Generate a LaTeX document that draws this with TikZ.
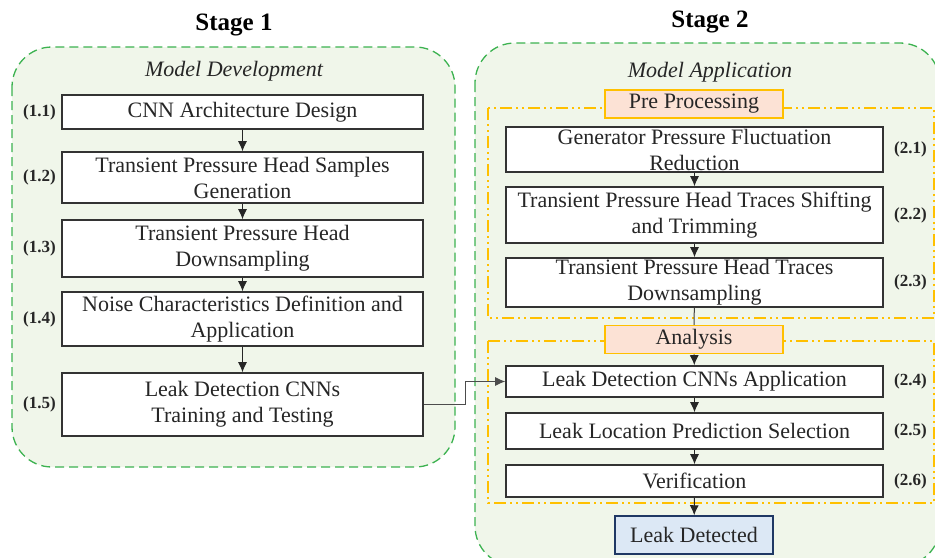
\documentclass[tikz,border=0pt]{standalone}
\usepackage{fontspec}
\setmainfont{Liberation Serif}
\usepackage{xcolor}
\usetikzlibrary{arrows.meta,positioning}
\definecolor{stagegreen}{RGB}{60,178,80}
\definecolor{stagefill}{RGB}{240,246,234}
\definecolor{frameorange}{RGB}{255,192,0}
\definecolor{tagfill}{RGB}{252,226,213}
\definecolor{endfill}{RGB}{220,232,245}
\definecolor{endline}{RGB}{31,56,100}
\begin{document}
\begin{tikzpicture}[x=0.5pt,y=-0.5pt,font=\fontsize{11}{13}\selectfont,text=black!85,
  stepbox/.style={draw=black!80,line width=0.8pt,fill=white,align=center,inner sep=0pt},
  leftbox/.style={stepbox,minimum width=180.5pt},
  rightbox/.style={stepbox,minimum width=188.5pt},
  tagbox/.style={draw=frameorange,line width=0.75pt,fill=tagfill,inner sep=0pt,minimum width=89pt,minimum height=14pt},
  num/.style={font=\fontsize{8.5}{10}\selectfont\bfseries,inner sep=1pt},
  stage/.style={draw=stagegreen,dash pattern=on 4.5pt off 2.5pt,line width=0.65pt,fill=stagefill,rounded corners=20pt},
  frame/.style={draw=frameorange,line width=0.9pt,dash pattern=on 6pt off 2pt on 1pt off 2pt on 1pt off 2pt},
  flow/.style={-{Latex[length=5pt,width=4.5pt]},black!85,line width=0.5pt}]
\path[use as bounding box,clip] (0,0) rectangle (935,557);
% stage containers
\draw[stage] (12,47) rectangle (455,467);
\draw[stage] (475,43) rectangle (940,566);
\node[font=\fontsize{12.5}{14}\selectfont\bfseries,text=black] (title1) at (234,25) {Stage 1};
\node[font=\fontsize{12.5}{14}\selectfont\bfseries,text=black] (title2) at (710,22) {Stage 2};
\node[font=\fontsize{11}{13}\selectfont\itshape] (dev) at (234,71) {Model Development};
\node[font=\fontsize{11}{13}\selectfont\itshape] (app) at (710,72) {Model Application};
% stage 1 steps
\node[leftbox,minimum height=17pt] (s11) at (242.5,112) {CNN Architecture Design};
\node[leftbox,minimum height=25.5pt] (s12) at (242.5,177.5) {Transient Pressure Head Samples\\Generation};
\node[leftbox,minimum height=28.5pt] (s13) at (242.5,248.5) {Transient Pressure Head\\Downsampling};
\node[leftbox,minimum height=27pt] (s14) at (242.5,319) {Noise Characteristics Definition and\\Application};
\node[leftbox,minimum height=31.5pt] (s15) at (242.5,404.5) {Leak Detection CNNs\\Training and Testing};
\foreach \n in {1,...,5}{\node[num,left=1.5pt of s1\n] (n1\n) {(1.\n)};}
% stage 2 frames
\draw[frame] (488,108) rectangle (934,318);
\draw[frame] (488,341) rectangle (934,503);
\node[tagbox] (pre) at (694,104) {Pre Processing};
\node[tagbox] (ana) at (694,339.5) {Analysis};
% stage 2 steps
\node[rightbox,minimum height=22.5pt] (s21) at (694.5,149.5) {Generator Pressure Fluctuation\\Reduction};
\node[rightbox,minimum height=28pt] (s22) at (694.5,215) {Transient Pressure Head Traces Shifting\\and Trimming};
\node[rightbox,minimum height=24.5pt] (s23) at (694.5,282.5) {Transient Pressure Head Traces\\Downsampling};
\node[rightbox,minimum height=15.5pt] (s24) at (694.5,381.5) {Leak Detection CNNs Application};
\node[rightbox,minimum height=18pt] (s25) at (694.5,431) {Leak Location Prediction Selection};
\node[rightbox,minimum height=16pt] (s26) at (694.5,481) {Verification};
\foreach \n in {1,...,6}{\node[num,right=4pt of s2\n] (n2\n) {(2.\n)};}
\node[draw=endline,line width=0.75pt,fill=endfill,inner sep=0pt,minimum width=79pt,minimum height=19pt] (leak) at (694,535) {Leak Detected};
% connectors
\draw[flow] (s11) -- (s12);
\draw[flow] (s12) -- (s13);
\draw[flow] (s13) -- (s14);
\draw[flow] (s14) -- (s15);
\draw[flow] (s21) -- (s22);
\draw[flow] (s22) -- (s23);
\draw[black!75,line width=0.5pt] (s23) -- (ana);
\draw[flow] (ana) -- (s24);
\draw[flow] (s24) -- (s25);
\draw[flow] (s25) -- (s26);
\draw[flow] (s26) -- (leak);
\draw[flow,black!70] (s15.east) -- ++(21pt,0) |- (s24.west);
\end{tikzpicture}
\end{document}
